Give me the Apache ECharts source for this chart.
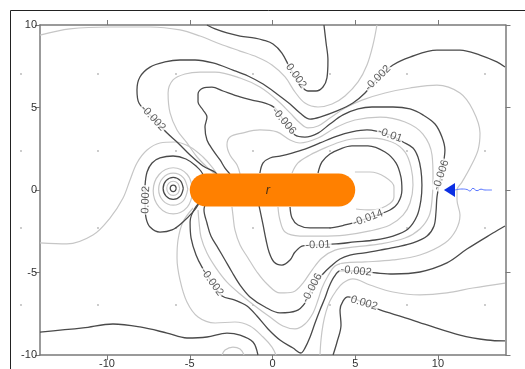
<!DOCTYPE html>
<html><head><meta charset="utf-8">
<script src="https://cdn.jsdelivr.net/npm/echarts@6/dist/echarts.min.js"></script>
<style>html,body{margin:0;padding:0;background:#fff}#c{width:525px;height:369px}</style>
</head><body><div id="c"></div>
<script>
// ---------- axis ticks ----------
const xTicks = [-10, -5, 0, 5, 10];
const yTicks = [-10, -5, 0, 5, 10];

// ---------- dark contours (labelled levels) ----------
const c_p002_top = [[-3.96,10.0],[-3.47,9.76],[-2.75,9.52],[-1.96,9.33],[-1.06,9.21],[-0.57,9.09],[0.03,8.85],[0.57,8.30],[1.06,7.39],[1.66,6.42],[2.14,6.00],[2.63,6.00],[3.05,6.24],[3.29,6.79],[3.35,7.88],[3.23,8.97],[3.11,10.0]];
const c_m002 = [[14.05,7.45],[13.56,7.76],[12.54,8.18],[11.33,8.48],[9.94,8.48],[8.31,8.06],[7.28,7.58],[6.37,6.79],[5.59,5.88],[4.86,5.27],[3.90,4.79],[2.87,4.42],[2.27,4.30],[1.66,4.67],[1.06,5.21],[0.27,5.82],[-0.57,6.42],[-1.48,6.91],[-2.39,7.27],[-3.60,7.70],[-4.68,7.88],[-5.59,7.88],[-6.50,7.76],[-7.40,7.45],[-8.01,6.85],[-8.19,6.06],[-8.07,5.27],[-7.22,4.36],[-6.37,3.45],[-5.71,2.85],[-4.98,2.12],[-4.20,1.45],[-3.35,0.91],[-3.78,0],[-4.68,-1.09],[-4.98,-1.94],[-4.92,-2.91],[-4.62,-3.94],[-4.26,-4.67],[-3.66,-5.58],[-3.05,-6.42],[-2.27,-6.67],[-1.54,-7.03],[-0.94,-7.64],[-0.27,-8.42],[0.45,-9.09],[1.24,-9.58],[1.72,-9.88],[1.96,-9.58],[2.27,-8.91],[2.57,-8.06],[2.87,-7.27],[3.17,-6.55],[3.41,-5.88],[3.72,-5.27],[4.08,-4.91],[5.05,-4.91],[6.31,-5.03],[7.28,-5.09],[8.91,-4.97],[10.54,-4.42],[11.75,-3.58],[13.32,-2.61],[14.05,-2.18]];
const c_m006 = [[-2.57,0.97],[-2.87,1.33],[-3.17,1.82],[-3.60,2.42],[-3.96,3.03],[-4.08,3.82],[-3.96,4.42],[-4.20,4.85],[-4.50,5.33],[-4.50,5.82],[-4.20,6.18],[-3.66,6.24],[-2.99,6.00],[-1.96,5.64],[-1.24,5.45],[-0.45,5.27],[0.15,4.97],[0.69,4.18],[1.36,3.33],[1.96,3.21],[2.75,3.45],[3.47,4.00],[4.26,4.55],[5.17,4.91],[6.01,5.03],[7.28,5.03],[8.31,4.91],[9.09,4.55],[9.82,4.00],[10.24,3.21],[10.42,2.42],[10.18,0.91],[9.94,-0.42],[9.88,-1.33],[9.76,-2.18],[9.34,-2.79],[8.49,-3.21],[7.52,-3.45],[6.50,-3.64],[5.47,-3.82],[4.68,-3.94],[4.08,-4.18],[3.54,-4.61],[2.99,-5.15],[2.39,-5.94],[1.96,-6.85],[1.42,-7.33],[0.45,-7.45],[-0.45,-7.09],[-1.36,-6.48],[-1.96,-5.76],[-2.45,-4.97],[-2.87,-4.24],[-3.29,-3.52],[-3.72,-2.79],[-3.96,-2.00],[-4.14,-1.21],[-3.90,-0.50]];
const c_m010 = [[-0.76,1.03],[-0.57,1.64],[-0.15,1.94],[0.45,2.06],[1.18,2.24],[1.96,2.48],[2.87,2.85],[3.90,3.27],[4.80,3.52],[5.71,3.64],[7.10,3.33],[7.89,2.91],[8.49,2.55],[8.79,2.00],[8.97,1.21],[9.03,0.30],[8.97,-0.61],[8.73,-1.58],[8.19,-2.36],[7.28,-2.79],[6.19,-3.03],[4.98,-3.15],[3.84,-3.27],[2.75,-3.33],[1.84,-3.39],[1.36,-3.76],[1.06,-4.24],[0.57,-4.55],[0.09,-4.36],[-0.21,-3.76],[-0.39,-3.03],[-0.57,-2.12],[-0.76,-1.21],[-0.82,-0.91]];
const c_m014 = [[2.75,1.03],[2.99,1.70],[3.47,2.18],[4.08,2.48],[4.80,2.67],[5.77,2.67],[6.80,2.30],[7.46,1.64],[7.76,0.79],[7.82,0],[7.58,-0.79],[7.10,-1.21],[5.77,-1.70],[4.38,-2.12],[3.35,-2.30],[2.27,-2.30],[1.54,-2.12],[1.18,-1.70],[1.06,-1.03]];
const c_p002_eye = [[-7.70,0.30],[-7.58,1.09],[-7.28,1.64],[-6.80,1.94],[-6.01,2.06],[-5.23,1.88],[-4.62,1.45],[-4.20,0.91],[-4.14,0],[-4.50,-0.91],[-4.86,-1.39],[-5.41,-1.94],[-6.07,-2.42],[-6.80,-2.55],[-7.40,-2.24],[-7.64,-1.70],[-7.70,-0.91],[-7.70,0.30]];
const c_bottom = [[-14.05,-8.61],[-11.45,-8.36],[-9.64,-8.12],[-8.01,-8.30],[-6.37,-8.67],[-5.17,-8.97],[-3.96,-8.91],[-2.75,-8.67],[-1.96,-8.79],[-1.18,-9.21],[-0.88,-10.0]];
const c_p002_lr = [[3.66,-10.0],[3.90,-9.21],[4.14,-8.18],[4.08,-7.27],[4.26,-6.73],[4.56,-6.48],[5.53,-6.85],[6.50,-7.27],[7.89,-7.70],[9.34,-8.18],[11.33,-8.79],[12.96,-9.09],[14.05,-9.15]];
const ringA = [[-5.82,0.10],[-5.87,0.24],[-6.00,0.30],[-6.13,0.24],[-6.18,0.10],[-6.13,-0.04],[-6.00,-0.10],[-5.87,-0.04],[-5.82,0.10]];
const ringC = [[-5.39,0.10],[-5.57,0.57],[-6.00,0.77],[-6.43,0.57],[-6.61,0.10],[-6.43,-0.37],[-6.00,-0.57],[-5.57,-0.37],[-5.39,0.10]];

// ---------- light contours (intermediate levels) ----------
const l_0_top = [[-14.05,9.39],[-12.24,9.76],[-9.82,9.88],[-7.40,9.88],[-5.59,9.70],[-4.38,9.33],[-3.17,8.85],[-1.96,8.42],[-0.94,8.06],[-0.03,7.58],[0.76,6.85],[1.36,5.94],[1.96,5.27],[2.75,5.03],[3.60,5.21],[4.38,5.70],[5.17,6.55],[5.71,7.58],[6.07,8.79],[6.31,10.0]];
const l_m004 = [[-3.47,0.97],[-3.96,1.39],[-4.56,2.00],[-5.17,2.85],[-5.77,3.64],[-6.19,4.67],[-6.31,5.88],[-6.01,6.67],[-5.29,7.03],[-4.38,7.15],[-3.47,7.15],[-1.96,6.79],[-0.76,6.24],[0.27,5.45],[1.06,4.67],[1.66,4.06],[2.14,3.76],[2.75,3.88],[3.47,4.36],[4.38,4.97],[5.41,5.45],[6.80,5.88],[8.31,6.18],[9.94,6.36],[11.33,5.88],[12.11,4.85],[12.54,3.45],[12.42,2.42],[11.93,1.33],[11.45,0.48],[11.15,0],[11.15,-0.61],[11.33,-1.52],[11.09,-2.42],[10.42,-3.21],[8.91,-3.94],[7.28,-4.24],[5.59,-4.36],[4.38,-4.42],[3.78,-4.61],[3.35,-5.21],[2.99,-5.94],[2.75,-6.67],[2.45,-7.45],[1.96,-8.12],[1.36,-8.42],[0.63,-8.24],[-0.15,-7.70],[-1.06,-7.03],[-1.96,-6.30],[-2.75,-5.58],[-3.41,-4.73],[-3.96,-3.82],[-4.32,-2.85],[-4.44,-1.94],[-4.50,-1.21]];
const l_m008 = [[-1.96,0.97],[-2.14,1.52],[-2.57,2.12],[-2.75,2.73],[-2.57,3.21],[-1.84,3.45],[-0.76,3.64],[0.27,3.52],[1.06,3.03],[1.66,2.85],[2.75,3.15],[3.78,3.76],[4.98,4.24],[6.50,4.42],[8.01,4.12],[9.09,3.39],[9.64,2.12],[9.70,0.73],[9.64,-0.61],[9.46,-1.58],[8.91,-2.36],[8.01,-2.91],[6.50,-3.27],[4.98,-3.45],[3.78,-3.64],[2.99,-4.12],[2.39,-4.85],[1.84,-5.64],[1.24,-6.18],[0.45,-6.24],[-0.33,-5.70],[-0.94,-4.97],[-1.48,-4.12],[-1.96,-3.33],[-2.27,-2.42],[-2.39,-1.52],[-2.45,-1.03]];
const l_m012 = [[1.18,1.03],[1.54,1.64],[2.27,2.12],[3.17,2.55],[4.08,2.91],[4.80,3.09],[6.01,3.15],[7.22,2.91],[8.01,2.30],[8.37,1.39],[8.49,0.30],[8.31,-0.79],[7.89,-1.52],[7.10,-2.12],[5.89,-2.48],[4.38,-2.73],[2.87,-2.79],[1.66,-2.79],[0.76,-2.55],[0.45,-1.82],[0.33,-1.03]];
const l_m016 = [[4.98,1.09],[5.89,1.09],[6.80,0.79],[7.34,0.18],[7.34,-0.42],[6.86,-0.97],[5.89,-1.21],[5.05,-1.15]];
const l_0_lr = [[14.05,-5.64],[12.11,-5.94],[10.54,-6.24],[8.91,-6.36],[7.28,-6.18],[5.89,-5.76],[4.86,-5.39],[4.26,-5.64],[3.84,-6.12],[3.47,-6.73],[3.23,-7.39],[3.05,-8.18],[2.93,-9.09],[2.87,-10.0]];
const l_0_ll = [[-4.80,-1.09],[-5.41,-1.94],[-5.71,-3.03],[-5.77,-4.12],[-5.59,-5.45],[-5.17,-6.79],[-4.50,-7.70],[-3.47,-8.06],[-2.27,-8.00],[-1.36,-8.24],[-0.57,-8.91],[-0.03,-9.52],[0.21,-10.0]];
const l_eye = [[-14.05,-3.21],[-12.42,-3.27],[-10.85,-2.73],[-9.82,-1.70],[-9.03,-0.48],[-8.61,0.61],[-8.19,1.64],[-7.58,2.42],[-6.80,2.85],[-5.89,2.91],[-4.98,2.61],[-4.20,2.00],[-3.60,1.33],[-3.29,0.85]];
const l_bump = [[-3.05,-10.0],[-2.87,-9.70],[-2.39,-9.52],[-1.96,-9.64],[-1.72,-10.0]];
const ringB = [[-5.61,0.10],[-5.72,0.40],[-6.00,0.53],[-6.28,0.40],[-6.39,0.10],[-6.28,-0.20],[-6.00,-0.33],[-5.72,-0.20],[-5.61,0.10]];
const ringD = [[-5.12,0.05],[-5.38,0.74],[-6.00,1.02],[-6.62,0.74],[-6.88,0.05],[-6.62,-0.64],[-6.00,-0.92],[-5.38,-0.64],[-5.12,0.05]];
const ringE = [[-4.79,-0.05],[-5.15,0.94],[-6.00,1.35],[-6.85,0.94],[-7.21,-0.05],[-6.85,-1.04],[-6.00,-1.45],[-5.15,-1.04],[-4.79,-0.05]];

// ---------- contour labels [x, y, text] ----------
const contourLabels = [
  [1.42, 6.91, '0.002'],
  [6.37, 6.79, '-0.002'],
  [-7.22, 4.36, '-0.002'],
  [0.69, 4.18, '-0.006'],
  [7.10, 3.33, '-0.01'],
  [10.18, 0.91, '-0.006'],
  [-7.66, -0.60, '0.002'],
  [5.77, -1.70, '-0.014'],
  [2.75, -3.33, '-0.01'],
  [-3.66, -5.58, '-0.002'],
  [5.05, -4.91, '-0.002'],
  [2.39, -5.94, '-0.006'],
  [5.53, -6.85, '0.002']
];
const labelAngles = [-55, 45, -47, -50, -20, 72, 88, 20, 2, -55, -6, 62, -17];

// ---------- rod, source arrow ----------
const rodStart = -5, rodEnd = 5, rodHalf = 1;
const rodLabel = [[-0.27, 0, 'r']];
const arrowTipX = 10.36, arrowBaseX = 11.03, arrowHalf = 0.42;
const waveLine = [[11.03,0],[11.45,0.06],[11.75,0.03],[11.93,-0.06],[12.11,0.10],[12.36,-0.04],[12.60,0.05],[12.84,0.0],[13.26,0.0]];

// ---------- build ----------
const FONT = "'Liberation Sans', Arial, sans-serif";
const chart = echarts.init(document.getElementById('c'));
function contour(data, dark) {
  return {type:'line', data, showSymbol:false, symbol:'none', smooth:0.35, silent:true, animation:false,
    z: dark ? 3 : 2, lineStyle:{color: dark ? '#4a4a4a' : '#c6c6c6', width: dark ? 1.3 : 1.2}};
}
const darkSet = [c_p002_top, c_m002, c_m006, c_m010, c_m014, c_p002_eye, c_bottom, c_p002_lr, ringA, ringC];
const lightSet = [l_0_top, l_m004, l_m008, l_m012, l_m016, l_0_lr, l_0_ll, l_eye, l_bump, ringB, ringD, ringE];
const series = [];
lightSet.forEach(d => series.push(contour(d, false)));
darkSet.forEach(d => series.push(contour(d, true)));
series.push({type:'scatter', symbolSize:1, itemStyle:{color:'rgba(0,0,0,0)'}, z:5, silent:true, animation:false,
  data: contourLabels.map((d,i) => ({name:d[2], value:[d[0], d[1]], label:{rotate: labelAngles[i]}})),
  label:{show:true, position:'inside', formatter:'{b}', color:'#333', fontSize:11, fontFamily:FONT, backgroundColor:'#fff', padding:[0,1]}});
series.push({type:'custom', z:6, silent:true, animation:false, encode:{x:[0,1], y:2},
  data:[[rodStart, rodEnd, rodHalf]],
  renderItem:(p, api) => {
    const a = api.coord([api.value(0), api.value(2)]);
    const b = api.coord([api.value(1), -api.value(2)]);
    const h = b[1] - a[1];
    return {type:'rect', shape:{x:a[0], y:a[1], width:b[0]-a[0], height:h, r:h/2}, style:{fill:'#ff8000'}};
  }});
series.push({type:'scatter', symbolSize:1, itemStyle:{color:'rgba(0,0,0,0)'}, z:7, silent:true, animation:false,
  data: rodLabel.map(d => ({name:d[2], value:[d[0], d[1]]})),
  label:{show:true, position:'inside', formatter:'{b}', color:'#1a1a1a', fontSize:13, fontStyle:'italic', fontFamily:FONT}});
series.push({type:'line', data:waveLine, showSymbol:false, symbol:'none', smooth:0.5, silent:true, animation:false, z:6,
  lineStyle:{color:'#5573ff', width:1}});
series.push({type:'custom', z:7, silent:true, animation:false, encode:{x:[0,1], y:2},
  data:[[arrowTipX, arrowBaseX, arrowHalf]],
  renderItem:(p, api) => {
    const t = api.coord([api.value(0), 0]);
    const b1 = api.coord([api.value(1), api.value(2)]);
    const b2 = api.coord([api.value(1), -api.value(2)]);
    return {type:'polygon', shape:{points:[t, b1, b2]}, style:{fill:'#0b2fe3'}};
  }});

// decorative background dots and outer frame of the source figure
const dotCols = [21, 98, 176, 253, 330, 407, 485];
const dotRows = [74, 151, 228, 305];
const graphics = [{type:'rect', z:0, shape:{x:10.5, y:10.5, width:700, height:700}, style:{fill:'transparent', stroke:'#222', lineWidth:1}}];
dotRows.forEach(yy => dotCols.forEach(xx => graphics.push({type:'circle', z:0, shape:{cx:xx, cy:yy, r:0.9}, style:{fill:'#b5b5b5'}})));

const axisCommon = {axisLine:{show:true, onZero:false, lineStyle:{color:'#7a7a7a', width:1.5}}, splitLine:{show:false}};
chart.setOption({
  animation:false,
  backgroundColor:'#fff',
  graphic: graphics,
  grid:{left:40, right:19.5, top:25, bottom:14, containLabel:false},
  xAxis:[
    Object.assign({type:'value', min:-14.05, max:14.08, position:'bottom',
      axisTick:{show:true, length:5, customValues:xTicks, lineStyle:{color:'#7a7a7a'}},
      axisLabel:{show:true, customValues:xTicks, margin:3, color:'#333', fontSize:11, fontFamily:FONT}}, axisCommon),
    Object.assign({type:'value', min:-14.05, max:14.08, position:'top',
      axisTick:{show:true, length:5, customValues:xTicks, lineStyle:{color:'#7a7a7a'}},
      axisLabel:{show:false}}, axisCommon)
  ],
  yAxis:[
    Object.assign({type:'value', min:-10, max:10, interval:5, position:'left',
      axisTick:{show:true, length:5, customValues:yTicks, lineStyle:{color:'#7a7a7a'}},
      axisLabel:{show:true, customValues:yTicks, margin:3, color:'#333', fontSize:11, fontFamily:FONT}}, axisCommon),
    Object.assign({type:'value', min:-10, max:10, interval:5, position:'right',
      axisTick:{show:true, length:5, customValues:yTicks, lineStyle:{color:'#7a7a7a'}},
      axisLabel:{show:false}}, axisCommon)
  ],
  series: series
});
</script>
</body></html>
